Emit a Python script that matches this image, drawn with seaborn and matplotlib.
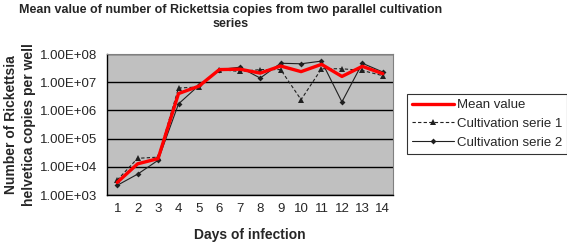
import numpy as np
import pandas as pd
import seaborn as sns
from matplotlib import pyplot as plt
from matplotlib.ticker import FixedLocator, FuncFormatter, NullFormatter
from matplotlib.lines import Line2D

# values (copies per well)
DAYS = list(range(1, 15))
SERIE_1 = [3.4e3, 2.0e4, 2.2e4, 6.2e6, 6.8e6, 2.8e7, 2.4e7, 2.8e7, 2.8e7, 2.4e6, 3.0e7, 3.0e7, 2.6e7, 1.7e7]
SERIE_2 = [2.2e3, 5.5e3, 1.7e4, 1.7e6, 7.7e6, 2.8e7, 3.4e7, 1.4e7, 4.7e7, 4.5e7, 5.6e7, 2.0e6, 4.7e7, 2.3e7]
MEAN = [(a + b) / 2 for a, b in zip(SERIE_1, SERIE_2)]
Y_TICKS = [1e3, 1e4, 1e5, 1e6, 1e7, 1e8]

sns.set_style("white")
plt.rcParams["font.family"] = ["Liberation Sans", "DejaVu Sans"]

df = pd.DataFrame({"day": DAYS, "mean": MEAN, "s1": SERIE_1, "s2": SERIE_2})

fig = plt.figure(figsize=(5.67, 2.46), dpi=100)
ax = fig.add_axes([107 / 567, 1 - 195 / 246, 286 / 567, 141 / 246])
ax.set_facecolor("#c0c0c0")

sns.lineplot(data=df, x="day", y="s1", ax=ax, color="#202020", linewidth=0.8,
             linestyle=(0, (3, 2)), marker="^", markersize=4, markeredgewidth=0, zorder=3)
sns.lineplot(data=df, x="day", y="s2", ax=ax, color="#202020", linewidth=0.8,
             marker="D", markersize=3, markeredgewidth=0, zorder=3)
sns.lineplot(data=df, x="day", y="mean", ax=ax, color="#ff0000", linewidth=2.4, zorder=4)

ax.set_yscale("log")
ax.set_ylim(1e3, 1e8)
ax.set_xlim(0.5, 14.5)
ax.yaxis.set_major_locator(FixedLocator(Y_TICKS))
ax.yaxis.set_minor_locator(FixedLocator([]))
ax.yaxis.set_major_formatter(FuncFormatter(lambda v, _: f"{v:.2E}"))
ax.grid(axis="y", which="major", color="black", linewidth=1.0)
ax.set_axisbelow(True)

ax.set_xticks(DAYS)
ax.set_xticks(np.arange(0.5, 15, 1), minor=True)
ax.xaxis.set_minor_formatter(NullFormatter())
ax.tick_params(axis="x", which="major", length=0, labelsize=9.5, pad=6)
ax.tick_params(axis="x", which="minor", length=4, width=0.8, color="black", direction="out")
ax.tick_params(axis="y", which="major", length=4, width=0.8, color="black", direction="out",
               labelsize=9.5, pad=3)

for side in ("top", "right"):
    ax.spines[side].set_color("#808080")
    ax.spines[side].set_linewidth(0.8)
for side in ("left", "bottom"):
    ax.spines[side].set_color("black")
    ax.spines[side].set_linewidth(1.0)

ax.set_xlabel("Days of infection", fontsize=10, fontweight="bold", labelpad=9)
ax.set_ylabel("Number of Rickettsia\nhelvetica copies per well", fontsize=10,
              fontweight="bold", labelpad=3, linespacing=1.35)

fig.text(231 / 567, 1 - 4 / 246, "Mean value of number of Rickettsia copies from two parallel cultivation\nseries",
         ha="center", va="top", fontsize=9, fontweight="bold", linespacing=1.25)

handles = [
    Line2D([], [], color="#ff0000", linewidth=2.4),
    Line2D([], [], color="#202020", linewidth=0.8, linestyle=(0, (3, 2)), marker="^",
           markersize=4, markeredgewidth=0),
    Line2D([], [], color="#202020", linewidth=0.8, marker="D", markersize=3, markeredgewidth=0),
]
labels = ["Mean value", "Cultivation serie 1", "Cultivation serie 2"]
leg = fig.legend(handles, labels, loc="center", bbox_to_anchor=(487 / 567, 1 - 124 / 246),
                 fontsize=9.5, frameon=True, fancybox=False, handlelength=3.2,
                 handletextpad=0.2, borderpad=0.35, labelspacing=0.5, borderaxespad=0)
leg.get_frame().set_edgecolor("black")
leg.get_frame().set_linewidth(0.8)

fig.savefig("out.png", dpi=100)
